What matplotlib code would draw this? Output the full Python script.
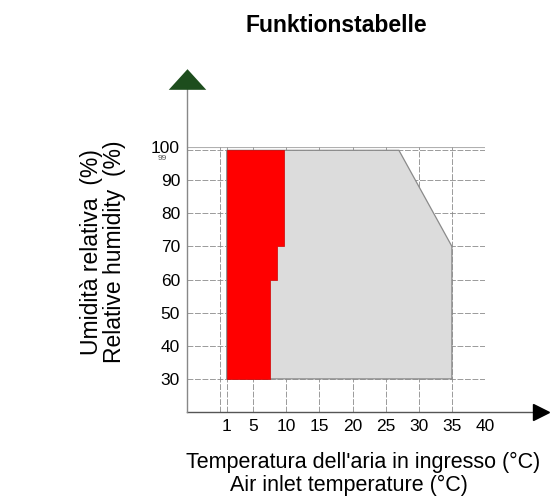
import numpy as np
import matplotlib
matplotlib.use('Agg')
import matplotlib.pyplot as plt
from matplotlib.path import Path

plt.rcParams['font.family'] = ['Liberation Sans', 'DejaVu Sans']

# operating envelope (temperature °C, relative humidity %)
grey_x = [1, 35, 35, 27, 1]
grey_y = [30, 30, 70, 99, 99]
red_x = [1, 7.6, 7.6, 8.6, 8.6, 9.6, 9.6, 1]
red_y = [30, 30, 60, 60, 70, 70, 99, 99]

x_ticks = [1, 5, 10, 15, 20, 25, 30, 35, 40]
y_ticks = [30, 40, 50, 60, 70, 80, 90, 100]

fig = plt.figure(figsize=(5.51, 5.0), dpi=100)
ax = fig.add_axes([187/551, 88/500, 298/551, 265/500])
ax.set_xlim(-5, 40)
ax.set_ylim(20, 100)
for s in ax.spines.values():
    s.set_visible(False)

# grid
grid_kw = dict(color='#8a8a8a', lw=0.6, ls=(0, (7, 2)), zorder=1)
for yv in y_ticks[:-1]:
    ax.plot([-5, 40], [yv, yv], **grid_kw)
ax.plot([-5, 40], [100, 100], color='#b0b0b0', lw=0.8, zorder=1)
ax.plot([-5, 40], [99, 99], **grid_kw)
for xv in [0] + x_ticks:
    ax.plot([xv, xv], [20, 100], **grid_kw)

ax.fill(grey_x, grey_y, color='#dcdcdc', ec='#8a8a8a', lw=0.9, zorder=2)
ax.fill(red_x, red_y, color='#ff0000', ec='#d00000', lw=0.5, zorder=3)

# axis arrows
ax.plot([-5, 48.3], [20, 20], color='#555555', lw=1.0, clip_on=False, zorder=4)
ax.plot([48.5], [20], marker='>', ms=12, color='black', clip_on=False, zorder=5)
ax.plot([-5, -5], [20, 118], color='#888888', lw=1.0, clip_on=False, zorder=4)
wide_tri = Path([(-1.0, -0.55), (1.0, -0.55), (0.0, 0.55), (-1.0, -0.55)],
                [Path.MOVETO, Path.LINETO, Path.LINETO, Path.CLOSEPOLY])
ax.plot([-5], [120.5], marker=wide_tri, ms=27, color='#1d4d1d', mew=0,
        clip_on=False, zorder=5)

ax.set_xticks(x_ticks)
ax.set_xticklabels([str(v) for v in x_ticks], fontsize=12.5)
ax.set_yticks(y_ticks)
ax.set_yticklabels([str(v) for v in y_ticks], fontsize=12.5)
ax.tick_params(length=0, pad=5)
ax.text(-8.0, 96.6, '99', fontsize=6, ha='right', va='center', color='#555555')

fig.text(0.61, 0.95, 'Funktionstabelle', fontsize=16.5, fontweight='bold',
         ha='center', va='center')
fig.text(0.166, 0.496, 'Umidità relativa  (%)', fontsize=16.5, rotation=90,
         ha='center', va='center')
fig.text(0.208, 0.496, 'Relative humidity  (%)', fontsize=16.5, rotation=90,
         ha='center', va='center')
fig.text(0.659, 0.076, "Temperatura dell'aria in ingresso (°C)", fontsize=15.5,
         ha='center', va='center')
fig.text(0.633, 0.03, 'Air inlet temperature (°C)', fontsize=15.5,
         ha='center', va='center')

fig.savefig('out.png', dpi=100)
